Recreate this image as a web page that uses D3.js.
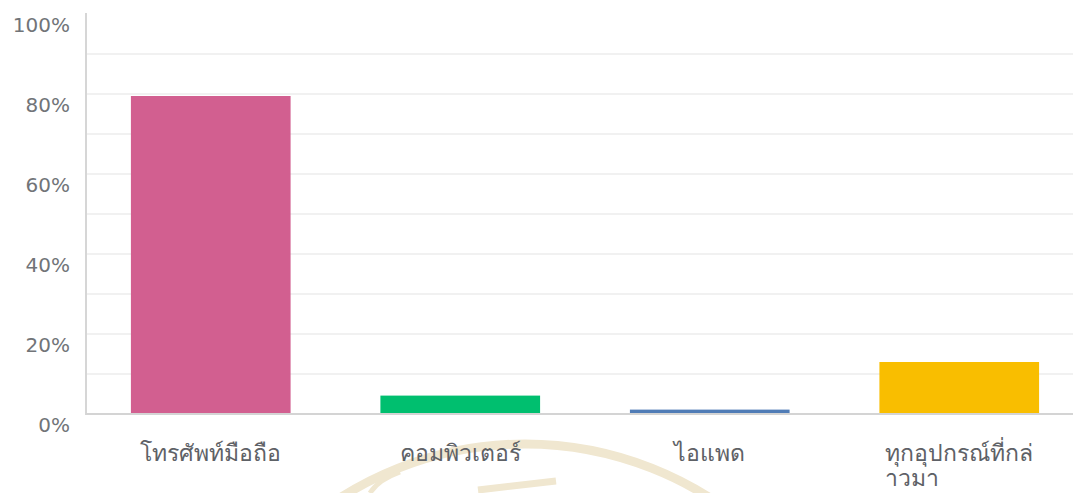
<!DOCTYPE html>
<html>
<head>
<meta charset="utf-8">
<script src="https://cdn.jsdelivr.net/npm/d3@7"></script>
<style>
  html, body { margin: 0; padding: 0; background: #fff; }
  svg { display: block; }
  text { font-family: "DejaVu Sans", "Noto Sans", sans-serif; }
</style>
</head>
<body>
<svg id="chart" width="1073" height="493"></svg>
<script>
// Device used (share of respondents, %)
const categories = ["โทรศัพท์มือถือ", "คอมพิวเตอร์", "ไอแพด", "ทุกอุปกรณ์ที่กล่าวมา"];
const percentages = [79.5, 4.6, 1.1, 13.0];
const barColors = ["#d25f90", "#00bf6f", "#507cb6", "#f9be00"];
const yTickValues = [0, 20, 40, 60, 80, 100];
const gridValues = [10, 20, 30, 40, 50, 60, 70, 80, 90];

const width = 1073, height = 493;
const plot = { left: 86, right: 1084, top: 14, bottom: 414 };
const labelColor = "#5e6166";

const svg = d3.select("#chart");

// faint seal in the background
const seal = svg.append("g").attr("fill", "none").attr("stroke", "#f0e7d0");
seal.append("circle").attr("cx", 525).attr("cy", 788).attr("r", 344).attr("stroke-width", 9);
seal.append("path").attr("d", "M370,493 Q378,480 400,472").attr("stroke-width", 5);
seal.append("path").attr("d", "M478,490 L556,481").attr("stroke-width", 7);

const x = d3.scaleBand()
  .domain(categories)
  .range([plot.left, plot.right])
  .paddingInner(0.36)
  .paddingOuter(0.18);

const y = d3.scaleLinear().domain([0, 100]).range([plot.bottom, plot.top]);

// horizontal grid
svg.append("g")
  .selectAll("line")
  .data(gridValues)
  .join("line")
  .attr("x1", plot.left)
  .attr("x2", width)
  .attr("y1", d => y(d))
  .attr("y2", d => y(d))
  .attr("stroke", "#ececec")
  .attr("stroke-width", 1.5);

// bars
svg.append("g")
  .selectAll("rect")
  .data(categories)
  .join("rect")
  .attr("x", d => x(d))
  .attr("width", x.bandwidth())
  .attr("y", (d, i) => y(percentages[i]))
  .attr("height", (d, i) => y(0) - y(percentages[i]))
  .attr("fill", (d, i) => barColors[i]);

// axis lines
svg.append("line")
  .attr("x1", plot.left).attr("x2", plot.left)
  .attr("y1", plot.top - 1).attr("y2", y(0) + 1)
  .attr("stroke", "#d6d6d6").attr("stroke-width", 2);
svg.append("line")
  .attr("x1", plot.left).attr("x2", width)
  .attr("y1", y(0)).attr("y2", y(0))
  .attr("stroke", "#d4d4d4").attr("stroke-width", 2);

// y axis labels
const yAxis = d3.axisLeft(y)
  .tickValues(yTickValues)
  .tickFormat(d => d + "%")
  .tickSize(0)
  .tickPadding(16);
const yG = svg.append("g").attr("transform", `translate(${plot.left},0)`).call(yAxis);
yG.select(".domain").remove();
yG.selectAll("text")
  .attr("dy", "0.88em")
  .attr("fill", "#717478")
  .attr("font-size", 20)
  .style("font-family", "'DejaVu Sans', sans-serif");

// x axis labels, wrapped to the bar width
const xAxis = d3.axisBottom(x).tickSize(0).tickPadding(0);
const xG = svg.append("g").attr("transform", `translate(0,${plot.bottom})`).call(xAxis);
xG.select(".domain").remove();
xG.selectAll("text").remove();

const seg = (typeof Intl !== "undefined" && Intl.Segmenter)
  ? new Intl.Segmenter("th", { granularity: "grapheme" }) : null;
const graphemes = s => seg ? Array.from(seg.segment(s), p => p.segment) : Array.from(s);
const xFont = 23;

xG.selectAll(".tick").each(function (d) {
  const g = d3.select(this);
  const t = g.append("text")
    .attr("fill", labelColor)
    .attr("font-size", xFont)
    .attr("text-anchor", "middle")
    .attr("y", 47);
  const maxW = x.bandwidth();
  const parts = graphemes(d);
  const lines = [];
  let cur = "";
  const probe = t.append("tspan");
  for (const p of parts) {
    probe.text(cur + p);
    if (probe.node().getComputedTextLength() > maxW && cur) {
      lines.push(cur);
      cur = p;
    } else cur += p;
  }
  lines.push(cur);
  probe.remove();
  t.text(lines[0]);
  if (lines.length > 1) {
    const w = t.node().getComputedTextLength();
    lines.slice(1).forEach((ln, k) => {
      g.append("text")
        .attr("fill", labelColor)
        .attr("font-size", xFont)
        .attr("text-anchor", "start")
        .attr("x", -w / 2)
        .attr("y", 47 + 25 * (k + 1))
        .text(ln);
    });
  }
});
</script>
</body>
</html>
